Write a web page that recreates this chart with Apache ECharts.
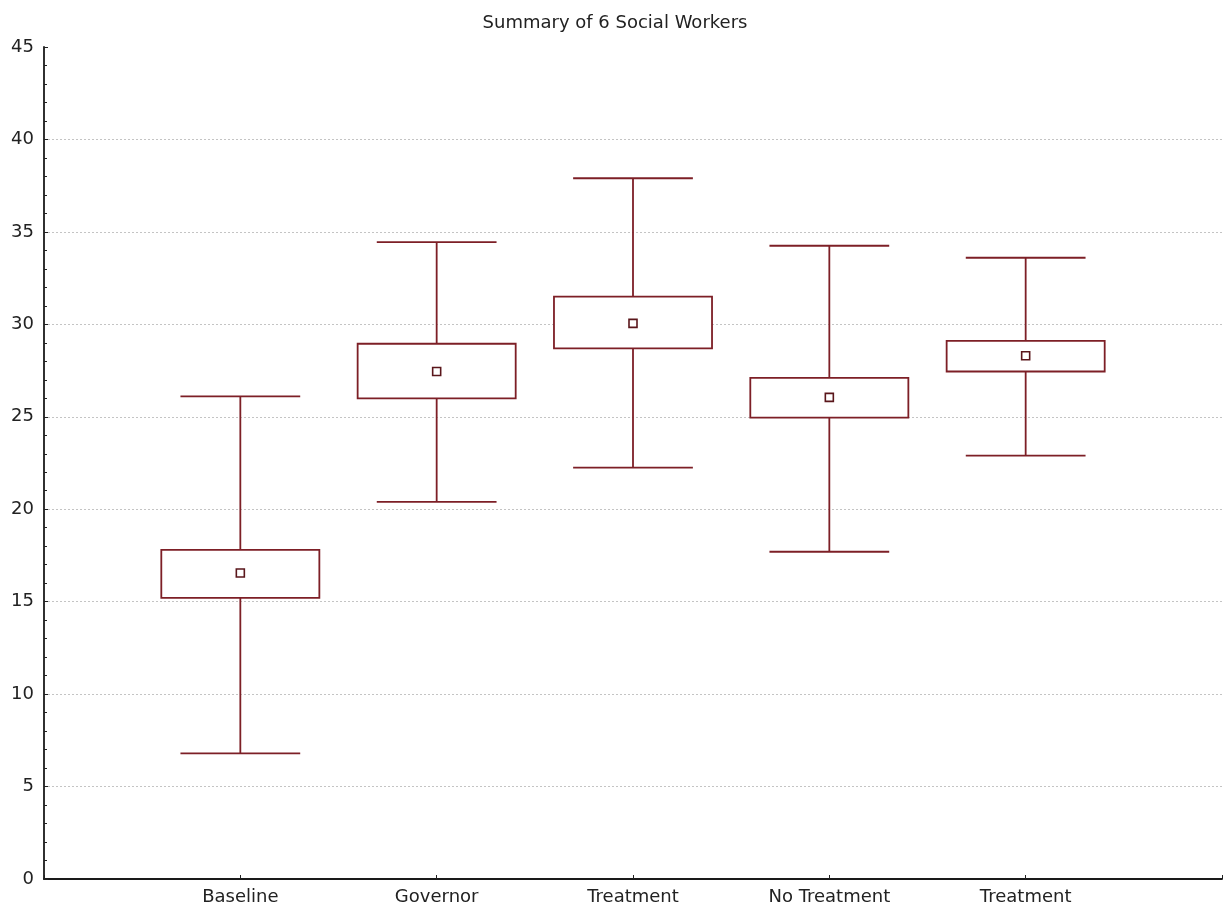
<!DOCTYPE html>
<html>
<head>
<meta charset="utf-8">
<script src="https://cdn.jsdelivr.net/npm/echarts@6/dist/echarts.min.js"></script>
<style>
  html, body { margin: 0; padding: 0; background: #fff; }
  #chart { width: 1230px; height: 909px; }
</style>
</head>
<body>
<div id="chart"></div>
<script>
// Groups along the x axis
const categories = ['Baseline', 'Governor', 'Treatment', 'No Treatment', 'Treatment'];
// Per-group summary values
const whiskerHigh = [26.1, 34.45, 37.9, 34.25, 33.6];
const boxHigh     = [17.8, 28.95, 31.5, 27.1, 29.1];
const means       = [16.55, 27.45, 30.05, 26.05, 28.3];
const boxLow      = [15.2, 26.0, 28.7, 24.95, 27.45];
const whiskerLow  = [6.8, 20.4, 22.25, 17.7, 22.9];
// Y axis range and step
const yMin = 0, yMax = 45, yStep = 5;

const FONT = 'DejaVu Sans';
const BOX_COLOR = '#7d1f26';
const MARK_COLOR = '#5a161b';

const seriesData = categories.map((c, i) => [
  i + 1, whiskerLow[i], boxLow[i], means[i], boxHigh[i], whiskerHigh[i]
]);

function renderBox(params, api) {
  const x = api.value(0);
  const pWL = api.coord([x, api.value(1)]);
  const pBL = api.coord([x, api.value(2)]);
  const pM  = api.coord([x, api.value(3)]);
  const pBH = api.coord([x, api.value(4)]);
  const pWH = api.coord([x, api.value(5)]);
  const band = api.size([1, 0])[0];
  const boxW = band * 0.805;
  const capW = band * 0.61;
  const cx = pM[0];
  const lineStyle = { stroke: BOX_COLOR, lineWidth: 1.8, fill: null };
  const mk = 8;
  return {
    type: 'group',
    children: [
      { type: 'line', shape: { x1: cx, y1: pWH[1], x2: cx, y2: pBH[1] }, style: lineStyle },
      { type: 'line', shape: { x1: cx, y1: pBL[1], x2: cx, y2: pWL[1] }, style: lineStyle },
      { type: 'line', shape: { x1: cx - capW / 2, y1: pWH[1], x2: cx + capW / 2, y2: pWH[1] }, style: lineStyle },
      { type: 'line', shape: { x1: cx - capW / 2, y1: pWL[1], x2: cx + capW / 2, y2: pWL[1] }, style: lineStyle },
      { type: 'rect', shape: { x: cx - boxW / 2, y: pBH[1], width: boxW, height: pBL[1] - pBH[1] },
        style: { stroke: BOX_COLOR, lineWidth: 1.8, fill: '#fff' } },
      { type: 'rect', shape: { x: cx - mk / 2, y: pM[1] - mk / 2, width: mk, height: mk },
        style: { stroke: MARK_COLOR, lineWidth: 1.6, fill: '#fff' } }
    ]
  };
}

const chart = echarts.init(document.getElementById('chart'), null, { renderer: 'canvas' });
chart.setOption({
  animation: false,
  backgroundColor: '#fff',
  title: {
    text: 'Summary of 6 Social Workers',
    left: 'center',
    top: 9,
    textStyle: { fontFamily: FONT, fontSize: 18, fontWeight: 'normal', color: '#222' }
  },
  grid: { left: 44, right: 8, top: 47, bottom: 30, containLabel: false },
  xAxis: {
    type: 'value',
    min: 0,
    max: categories.length + 1,
    interval: 1,
    axisLine: { show: true, onZero: false, lineStyle: { color: '#1a1a1a', width: 1.8 } },
    axisTick: { show: true, inside: true, length: 4, lineStyle: { color: '#222' } },
    axisLabel: {
      margin: 9,
      fontFamily: FONT, fontSize: 18, color: '#222',
      formatter: v => categories[v - 1] || ''
    },
    splitLine: { show: false }
  },
  yAxis: {
    type: 'value',
    min: yMin,
    max: yMax,
    interval: yStep,
    axisLine: { show: true, lineStyle: { color: '#1a1a1a', width: 1.8 } },
    axisTick: { show: true, inside: true, length: 4, lineStyle: { color: '#222' } },
    minorTick: { show: true, splitNumber: 5, length: 3, lineStyle: { color: '#222' } },
    axisLabel: { margin: 10, fontFamily: FONT, fontSize: 18, color: '#222' },
    splitLine: {
      show: true,
      showMinLine: false,
      showMaxLine: false,
      lineStyle: { color: '#c4c4c4', type: [2, 2], width: 1 }
    }
  },
  series: [{
    type: 'custom',
    renderItem: renderBox,
    encode: { x: 0, y: [1, 2, 3, 4, 5] },
    data: seriesData,
    clip: false
  }]
});
</script>
</body>
</html>
